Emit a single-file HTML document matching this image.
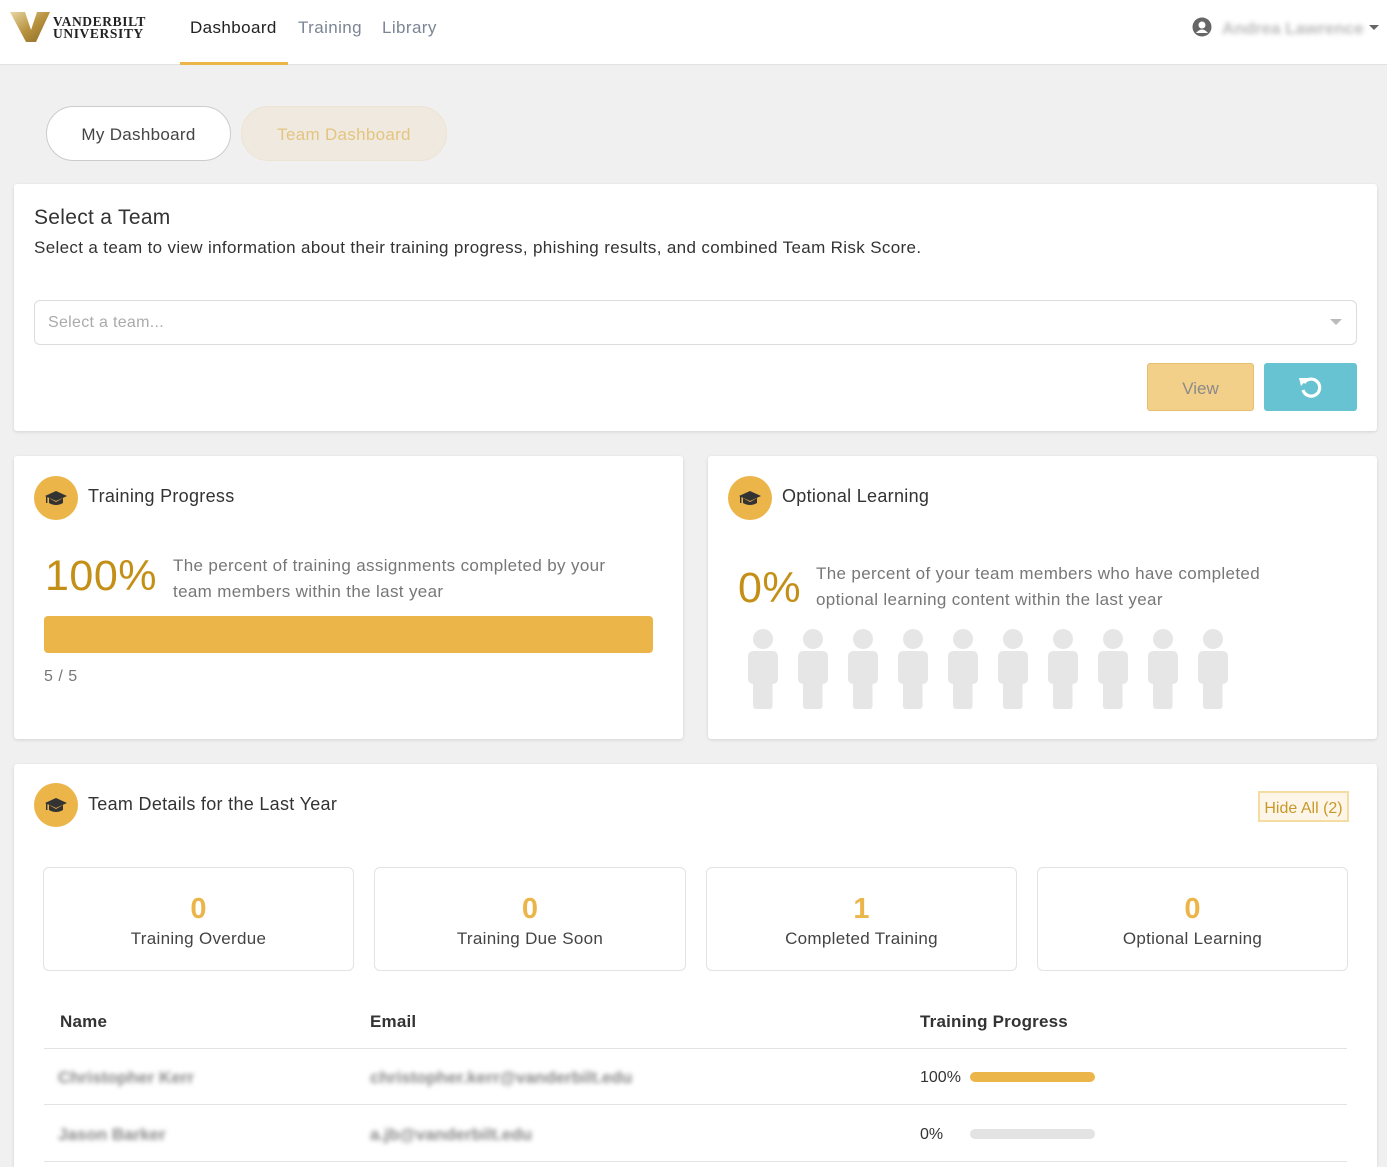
<!DOCTYPE html>
<html><head><meta charset="utf-8">
<style>
*{box-sizing:border-box;margin:0;padding:0}
html,body{width:1387px;height:1167px;overflow:hidden;background:#f0f0f0;font-family:"Liberation Sans",Arial,sans-serif;color:#333}
.a{position:absolute;white-space:nowrap}
.hdr{position:absolute;left:0;top:0;width:1387px;height:65px;background:#fff;border-bottom:1px solid #e2e2e2}
.card{position:absolute;background:#fff;border-radius:3px;box-shadow:0 1px 3px rgba(0,0,0,0.12)}
.ic{position:absolute;width:44px;height:44px;border-radius:50%;background:#ecb54a}
.ic svg{position:absolute;left:10px;top:12px}
.box{position:absolute;top:867px;height:104px;width:311px;border:1px solid #e3e3e3;border-radius:6px;background:#fff;text-align:center}
.box .n{position:absolute;left:0;right:0;top:25px;font-size:29px;color:#ecb54a;font-weight:bold}
.box .l{position:absolute;left:0;right:0;top:61px;font-size:17px;color:#444;letter-spacing:0.3px}
.blur{position:absolute;filter:blur(2.5px);color:#888;font-size:17px;white-space:nowrap;font-weight:bold}
.line{position:absolute;left:44px;width:1303px;height:1px;background:#e3e3e3}
</style></head><body>

<div class="hdr"></div>
<svg class="a" style="left:10px;top:12px" width="42" height="32" viewBox="0 0 42 32">
<defs><linearGradient id="g" x1="0" y1="0" x2="1" y2="1"><stop offset="0" stop-color="#e8d7a6"/><stop offset="0.5" stop-color="#b8933f"/><stop offset="1" stop-color="#8a6a25"/></linearGradient></defs>
<polygon points="0,0 15,0 21,18 27,0 40,0 26,30 16,30" fill="url(#g)"/>
</svg>
<div class="a" style="left:53px;top:16px;font-family:'Liberation Serif',serif;font-weight:bold;font-size:13.5px;line-height:12px;color:#222;letter-spacing:0.6px">VANDERBILT<br>UNIVERSITY</div>

<div class="a" style="left:190px;top:18px;font-size:17px;color:#222;letter-spacing:0.4px">Dashboard</div>
<div class="a" style="left:180px;top:62px;width:108px;height:3px;background:#ecb54a"></div>
<div class="a" style="left:298px;top:18px;font-size:17px;color:#7c8595;letter-spacing:0.4px">Training</div>
<div class="a" style="left:382px;top:18px;font-size:17px;color:#7c8595;letter-spacing:0.4px">Library</div>

<svg class="a" style="left:1192px;top:17px" width="20" height="20" viewBox="0 0 20 20"><circle cx="10" cy="10" r="9.5" fill="#666"/><circle cx="10" cy="8" r="3.5" fill="#fff"/><path d="M4 16 Q10 9 16 16 Z" fill="#fff"/></svg>
<div class="blur" style="left:1222px;top:19px;color:#bbb">Andrea Lawrence</div>
<div class="a" style="left:1369px;top:25px;width:0;height:0;border-left:5px solid transparent;border-right:5px solid transparent;border-top:5px solid #666"></div>

<div class="a" style="left:46px;top:106px;width:185px;height:55px;border-radius:28px;background:#fff;border:1px solid #ccc;text-align:center;line-height:55px;font-size:17px;color:#444;letter-spacing:0.3px">My Dashboard</div>
<div class="a" style="left:241px;top:106px;width:206px;height:55px;border-radius:28px;background:#efe9e0;border:1px solid #ece3d2;text-align:center;line-height:55px;font-size:17px;color:#e4c57f;letter-spacing:0.3px">Team Dashboard</div>

<div class="card" style="left:14px;top:184px;width:1363px;height:247px"></div>
<div class="a" style="left:34px;top:206px;font-size:21px;color:#333;letter-spacing:0.3px">Select a Team</div>
<div class="a" style="left:34px;top:238px;font-size:17px;color:#333;letter-spacing:0.35px">Select a team to view information about their training progress, phishing results, and combined Team Risk Score.</div>
<div class="a" style="left:34px;top:300px;width:1323px;height:45px;border:1px solid #dcdcdc;border-radius:6px;background:#fff"></div>
<div class="a" style="left:48px;top:314px;font-size:16px;color:#aaa;letter-spacing:0.3px">Select a team...</div>
<div class="a" style="left:1330px;top:319px;width:0;height:0;border-left:6px solid transparent;border-right:6px solid transparent;border-top:6px solid #bbb"></div>
<div class="a" style="left:1147px;top:363px;width:107px;height:48px;background:#f2d08a;border:1px solid #e6c06e;border-radius:3px;text-align:center;line-height:50px;font-size:17px;color:#8a8a8a">View</div>
<div class="a" style="left:1264px;top:363px;width:93px;height:48px;background:#67c3d2;border-radius:3px"></div>
<svg class="a" style="left:1298px;top:375px" width="25" height="25" viewBox="0 0 25 25"><path d="M6 8 A8.5 8.5 0 1 1 5 15" fill="none" stroke="#fff" stroke-width="3.2"/><polygon points="1,3 10,3 3,11" fill="#fff"/></svg>

<div class="card" style="left:14px;top:456px;width:669px;height:283px"></div>
<div class="ic" style="left:34px;top:476px"><svg width="24" height="20" viewBox="0 0 24 20"><polygon points="12,3 23,8 12,13 1,8" fill="#333"/><path d="M5 10 L5 15 Q12 19 19 15 L19 10 L12 14 Z" fill="#333"/><rect x="2" y="8" width="1.4" height="7" fill="#333"/></svg></div>
<div class="a" style="left:88px;top:486px;font-size:18px;color:#333;letter-spacing:0.3px">Training Progress</div>
<div class="a" style="left:45px;top:552px;font-size:43px;color:#c48f17;letter-spacing:0.5px">100%</div>
<div class="a" style="left:173px;top:553px;font-size:17px;line-height:26px;color:#777;letter-spacing:0.35px">The percent of training assignments completed by your<br>team members within the last year</div>
<div class="a" style="left:44px;top:616px;width:609px;height:37px;background:#ecb54a;border-radius:4px"></div>
<div class="a" style="left:44px;top:668px;font-size:16px;color:#777;letter-spacing:0.5px">5 / 5</div>

<div class="card" style="left:708px;top:456px;width:669px;height:283px"></div>
<div class="ic" style="left:728px;top:476px"><svg width="24" height="20" viewBox="0 0 24 20"><polygon points="12,3 23,8 12,13 1,8" fill="#333"/><path d="M5 10 L5 15 Q12 19 19 15 L19 10 L12 14 Z" fill="#333"/><rect x="2" y="8" width="1.4" height="7" fill="#333"/></svg></div>
<div class="a" style="left:782px;top:486px;font-size:18px;color:#333;letter-spacing:0.3px">Optional Learning</div>
<div class="a" style="left:738px;top:564px;font-size:43px;color:#c48f17;letter-spacing:0.5px">0%</div>
<div class="a" style="left:816px;top:561px;font-size:17px;line-height:26px;color:#777;letter-spacing:0.35px">The percent of your team members who have completed<br>optional learning content within the last year</div>

<svg class="a" style="left:748px;top:629px" width="490" height="82" viewBox="0 0 490 82">
<defs><g id="p"><circle cx="15" cy="10" r="10" fill="#e6e6e6"/><rect x="0" y="22" width="30" height="33" rx="5" fill="#e6e6e6"/><rect x="5" y="45" width="19.5" height="35" rx="3" fill="#e6e6e6"/></g></defs>
<use href="#p" x="0"/><use href="#p" x="50"/><use href="#p" x="100"/><use href="#p" x="150"/><use href="#p" x="200"/><use href="#p" x="250"/><use href="#p" x="300"/><use href="#p" x="350"/><use href="#p" x="400"/><use href="#p" x="450"/>
</svg>

<div class="card" style="left:14px;top:764px;width:1363px;height:403px;border-radius:3px 3px 0 0"></div>
<div class="ic" style="left:34px;top:783px"><svg width="24" height="20" viewBox="0 0 24 20"><polygon points="12,3 23,8 12,13 1,8" fill="#333"/><path d="M5 10 L5 15 Q12 19 19 15 L19 10 L12 14 Z" fill="#333"/><rect x="2" y="8" width="1.4" height="7" fill="#333"/></svg></div>
<div class="a" style="left:88px;top:794px;font-size:18px;color:#333;letter-spacing:0.3px">Team Details for the Last Year</div>
<div class="a" style="left:1258px;top:791px;width:91px;height:31px;border:2px solid #f5dca0;background:#fdf6e8;text-align:center;line-height:31px;font-size:16px;color:#c8982a">Hide All (2)</div>

<div class="box" style="left:43px"><div class="n">0</div><div class="l">Training Overdue</div></div>
<div class="box" style="left:374px;width:312px"><div class="n">0</div><div class="l">Training Due Soon</div></div>
<div class="box" style="left:706px"><div class="n">1</div><div class="l">Completed Training</div></div>
<div class="box" style="left:1037px"><div class="n">0</div><div class="l">Optional Learning</div></div>

<div class="a" style="left:60px;top:1012px;font-size:17px;font-weight:bold;color:#333;letter-spacing:0.2px">Name</div>
<div class="a" style="left:370px;top:1012px;font-size:17px;font-weight:bold;color:#333;letter-spacing:0.2px">Email</div>
<div class="a" style="left:920px;top:1012px;font-size:17px;font-weight:bold;color:#333;letter-spacing:0.2px">Training Progress</div>
<div class="line" style="top:1048px"></div>
<div class="blur" style="left:58px;top:1068px">Christopher Kerr</div>
<div class="blur" style="left:370px;top:1068px">christopher.kerr@vanderbilt.edu</div>
<div class="a" style="left:920px;top:1069px;font-size:16px;color:#333">100%</div>
<div class="a" style="left:970px;top:1072px;width:125px;height:10px;border-radius:5px;background:#ecb54a"></div>
<div class="line" style="top:1104px"></div>
<div class="blur" style="left:58px;top:1125px">Jason Barker</div>
<div class="blur" style="left:370px;top:1125px">a.jb@vanderbilt.edu</div>
<div class="a" style="left:920px;top:1126px;font-size:16px;color:#333">0%</div>
<div class="a" style="left:970px;top:1129px;width:125px;height:10px;border-radius:5px;background:#e3e3e3"></div>
<div class="line" style="top:1161px"></div>

</body></html>
